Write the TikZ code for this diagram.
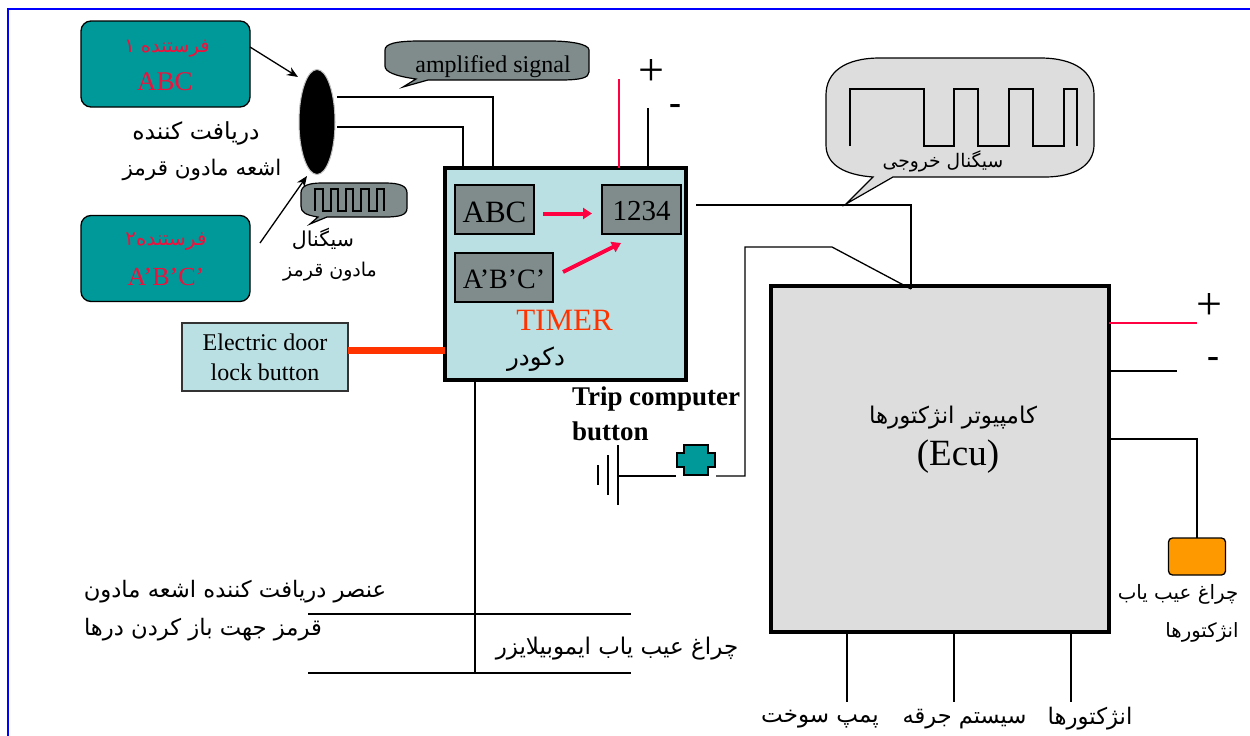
\documentclass[tikz,border=0pt]{standalone}
\usepackage{fontspec}
\usetikzlibrary{arrows.meta,shapes.geometric,calc}
\setmainfont{Liberation Serif}
\newfontfamily\arabicfont[Script=Arabic]{DejaVu Sans}
\TeXXeTstate=1
\definecolor{tealbox}{HTML}{009999}
\definecolor{sendred}{HTML}{F0103C}
\definecolor{wirered}{HTML}{FF0040}
\definecolor{grayblk}{HTML}{808C8C}
\definecolor{paleblue}{HTML}{BBE0E3}
\definecolor{ecugray}{HTML}{DDDDDD}
\definecolor{lockred}{HTML}{FF3300}
\definecolor{lamp}{HTML}{FF9900}
\newcommand{\fa}[1]{\fontsize{#1}{#1}\selectfont\arabicfont}
\newcommand{\la}[1]{\fontsize{#1}{#1}\selectfont}
\tikzset{
  base/.style={inner sep=0pt,outer sep=0pt},
  lbl/.style={base,align=center},
  wire/.style={line width=1.3pt,black},
  redwire/.style={line width=1.3pt,wirered},
  sender/.style={base,draw=black,line width=1.3pt,fill=tealbox,rounded corners=10pt,minimum width=169pt,minimum height=86pt},
  chip/.style={base,draw=black,line width=1.3pt,fill=grayblk,minimum height=49pt},
  bigbox/.style={base,draw=black,line width=3.5pt},
  redarrow/.style={line width=4pt,wirered,-{Triangle[length=9pt,width=11pt]}},
  blkarrow/.style={line width=1.3pt,-{Stealth[length=11pt,width=9pt]}},
}
\begin{document}
\begin{tikzpicture}[x=1pt,y=-1pt]
\useasboundingbox (0,0) rectangle (1250,736);
\fill[white] (0,0) rectangle (1250,736);
\draw[blue,line width=2pt] (7.5,736) -- (7.5,9) -- (1250,9);

% senders and receiver
\node[sender] (txA) at (165.5,64) {};
\node[sender] (txB) at (165.5,258.5) {};
\node[lbl,text=sendred] (txAa) at (167,49) {\fa{19.5}\beginR فرستنده ۱\endR};
\node[lbl,text=sendred] (txAb) at (165,82) {\la{27}ABC};
\node[lbl,text=sendred] (txBa) at (166,242) {\fa{20}\beginR فرستنده۲\endR};
\node[lbl,text=sendred] (txBb) at (166,277) {\la{26}A’B’C’};
\node[base,ellipse,draw=black!25,line width=1pt,fill=black,minimum width=36pt,minimum height=105pt] (rx) at (317,122) {};
\coordinate (rxHeadA) at (298,77);
\coordinate (txBout) at (260,243);
\coordinate (rxHeadB) at (307,176);
\draw[blkarrow] (txA.east |- 0,47) -- (rxHeadA);
\draw[blkarrow] (txBout) -- (rxHeadB);
\node[lbl] (rxT1) at (196,133) {\fa{23.5}\beginR دریافت کننده\endR};
\node[lbl] (rxT2) at (202,170) {\fa{21.5}\beginR اشعه مادون قرمز\endR};

% amplified signal bubble
\draw[fill=grayblk,line width=1.2pt] (403,87) -- (428,80) -- (560,80)
  .. controls (580,80) and (589,78) .. (589,72) -- (589,50)
  .. controls (589,44) and (570,41) .. (550,41) -- (420,41)
  .. controls (395,41) and (385,44) .. (385,50) -- (385,66)
  .. controls (385,72) and (395,76) .. (416,79) -- cycle;
\node[lbl] (amp) at (493,67) {\la{24}amplified signal};

% small signal bubble
\draw[fill=grayblk,line width=1.2pt] (310,224) -- (327,217) -- (385,217)
  .. controls (400,217) and (407,215) .. (407,208) -- (407,193)
  .. controls (407,186) and (400,183) .. (385,183) -- (322,183)
  .. controls (308,183) and (301,186) .. (301,193) -- (301,206)
  .. controls (301,212) and (305,215) .. (318,217) -- cycle;
\draw[line width=2pt] (315,211) -- (315,189) -- (323,189) -- (323,211) -- (331,211) -- (331,189) -- (338,189) -- (338,211) -- (346,211) -- (346,189) -- (353,189) -- (353,211) -- (361,211) -- (361,189) -- (369,189) -- (369,211) -- (377,211) -- (377,189) -- (384,189) -- (384,211);
\node[lbl] (sig1) at (323,239) {\fa{20.5}\beginR سیگنال\endR};
\node[lbl] (sig2) at (330,272) {\fa{19}\beginR مادون قرمز\endR};

% timer
\node[bigbox,fill=paleblue,minimum width=241pt,minimum height=212pt] (timer) at (565.5,274) {};
\node[chip,minimum width=79pt] (chipA) at (494.5,209.5) {};
\node[chip,minimum width=79pt] (chipN) at (641.5,209.5) {};
\node[chip,minimum width=98pt] (chipB) at (504,277.5) {};
\node[lbl] (chipAt) at (494.5,212.5) {\la{31}ABC};
\node[lbl] (chipNt) at (641.5,211.5) {\la{29}1234};
\node[lbl] (chipBt) at (504,279.5) {\la{28}A’B’C’};
\coordinate (arA) at (543,213.5);
\coordinate (arB) at (592,213.5);
\coordinate (arC) at (563,272);
\coordinate (arD) at (621,243);
\draw[redarrow] (arA) -- (arB);
\draw[redarrow] (arC) -- (arD);
\node[lbl,text=lockred] (tim) at (564.5,320) {\la{31}TIMER};
\node[lbl] (dec) at (536,359) {\fa{24.5}\beginR دکودر\endR};

% wires into timer
\coordinate (rxA) at (337,97);
\coordinate (rxB) at (337,127);
\coordinate (inA) at (493,97);
\coordinate (inB) at (463,127);
\draw[wire] (rxA) -- (inA) -- (inA |- timer.north);
\draw[wire] (rxB) -- (inB) -- (inB |- timer.north);
\coordinate (vccT) at (619,79);
\coordinate (gndT) at (648,108);
\draw[redwire] (vccT) -- (vccT |- timer.north);
\draw[wire] (gndT) -- (gndT |- timer.north);
\node[lbl] (plusT) at (651,73) {\la{46}+};
\node[lbl] (minT) at (675,109) {\la{36}\textbf{-}};

% door lock button
\node[base,draw=black!80,line width=1.2pt,fill=paleblue,minimum width=166pt,minimum height=68pt,align=center,font=\la{24}] (lock) at (265,357) {Electric door\\[6pt] lock button};
\draw[lockred,line width=7pt] (lock.east |- 0,350) -- (timer.west |- 0,350);

% lower left
\coordinate (trunk) at (475,673);
\coordinate (h1L) at (308,614);
\coordinate (h1R) at (631,614);
\coordinate (h2L) at (308,673);
\coordinate (h2R) at (631,673);
\draw[wire] (trunk) -- (trunk |- timer.south);
\draw[wire] (h1L) -- (h1R);
\draw[wire] (h2L) -- (h2R);
\node[lbl] (rcv1) at (235,592) {\fa{22.7}\beginR عنصر دریافت کننده اشعه مادون\endR};
\node[lbl] (rcv2) at (203,630) {\fa{22.7}\beginR قرمز جهت باز کردن درها\endR};
\node[lbl] (imm) at (617,649) {\fa{23}\beginR چراغ عیب یاب ایموبیلایزر\endR};

% trip computer button
\node[base,anchor=west,font=\la{27}\bfseries] (trip1) at (572,399) {Trip computer};
\node[base,anchor=west,font=\la{27}\bfseries] (trip2) at (572,431) {button};
\coordinate (b1a) at (598,465); \coordinate (b1b) at (598,485);
\coordinate (b2a) at (608,455); \coordinate (b2b) at (608,495);
\coordinate (b3a) at (618,445); \coordinate (b3b) at (618,505);
\draw[wire] (b1a) -- (b1b);
\draw[wire] (b2a) -- (b2b);
\draw[wire] (b3a) -- (b3b);
\draw[fill=tealbox,line width=1.3pt] (684,445) -- (708,445) -- (708,453) -- (715,453) -- (715,467) -- (708,467) -- (708,475) -- (684,475) -- (684,467) -- (677,467) -- (677,453) -- (684,453) -- cycle;
\coordinate (btnL) at (676,476);
\coordinate (btnR) at (716,476);
\coordinate (c1) at (745,476);
\coordinate (c2) at (745,247);
\coordinate (c3) at (832,247);
\coordinate (ecuIn) at (911,289);
\draw[wire] (b3a |- btnL) -- (btnL);

% ECU
\node[bigbox,fill=ecugray,minimum width=338pt,minimum height=346pt] (ecu) at (940,459) {};
\node[lbl] (ecuT) at (953,418) {\fa{23}\beginR کامپیوتر انژکتورها\endR};
\node[lbl] (ecuE) at (958,457) {\la{37}(Ecu)};
\draw[wire] (btnR) -- (c1) -- (c2) -- (c3) -- (ecuIn);
\coordinate (out1) at (696,205);
\coordinate (out2) at (911,205);
\draw[wire] (out1) -- (out2) -- (ecuIn);

% output bubble
\draw[fill=ecugray,line width=1.2pt] (846,204) -- (893,177) -- (1045,177)
  .. controls (1075,177) and (1094,165) .. (1094,145) -- (1094,95)
  .. controls (1094,72) and (1075,58) .. (1040,58) -- (880,58)
  .. controls (845,58) and (826,72) .. (826,95) -- (826,145)
  .. controls (826,165) and (845,175) .. (873,177) -- cycle;
\draw[line width=1.2pt] (850,146) -- (850,89) -- (924,89) -- (924,146) -- (954,146) -- (954,89) -- (978,89) -- (978,146) -- (1009,146) -- (1009,89) -- (1033,89) -- (1033,146) -- (1064,146) -- (1064,89) -- (1077,89) -- (1077,146);
\node[lbl] (outT) at (943,161) {\fa{18.7}\beginR سیگنال خروجی\endR};

% ECU right side
\coordinate (vccE) at (1197,323);
\coordinate (gndE) at (1177,371);
\coordinate (lampA) at (1197,439);
\draw[redwire] (ecu.east |- vccE) -- (vccE);
\draw[wire] (ecu.east |- gndE) -- (gndE);
\node[base,draw=black,line width=1.3pt,fill=lamp,rounded corners=4pt,minimum width=57pt,minimum height=37pt] (lampE) at (1197,556.5) {};
\draw[wire] (ecu.east |- lampA) -- (lampA) -- (lampE.north);
\node[lbl] (plusE) at (1209,307) {\la{46}+};
\node[lbl] (minE) at (1213,362) {\la{36}\textbf{-}};
\node[lbl] (lampT1) at (1178,594) {\fa{19.8}\beginR چراغ عیب یاب\endR};
\node[lbl] (lampT2) at (1202,632) {\fa{19.7}\beginR انژکتورها\endR};

% ECU bottom
\coordinate (o1) at (847,702);
\coordinate (o2) at (954,702);
\coordinate (o3) at (1071,702);
\draw[wire] (o1 |- ecu.south) -- (o1);
\draw[wire] (o2 |- ecu.south) -- (o2);
\draw[wire] (o3 |- ecu.south) -- (o3);
\node[lbl] (ob1) at (820,719) {\fa{23}\beginR پمپ سوخت\endR};
\node[lbl] (ob2) at (964.5,719) {\fa{22.5}\beginR سیستم جرقه\endR};
\node[lbl] (ob3) at (1090,719) {\fa{22.8}\beginR انژکتورها\endR};
\end{tikzpicture}
\end{document}
